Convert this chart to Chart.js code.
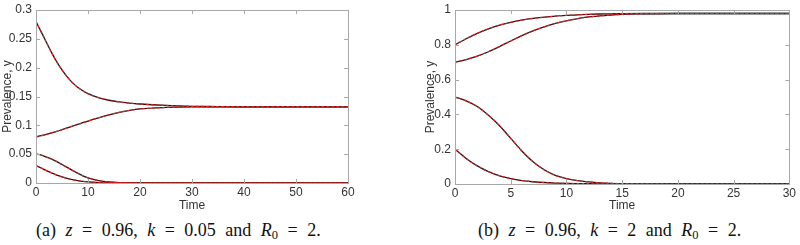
<!DOCTYPE html>
<html>
<head>
<meta charset="utf-8">
<script src="https://cdn.jsdelivr.net/npm/chart.js@4.4.1/dist/chart.umd.min.js"></script>
<style>
  html, body { margin:0; padding:0; background:#fff; width:800px; height:245px; overflow:hidden; }
  .wrap { position:absolute; }
  .cap { position:absolute; font-family:"Liberation Serif", serif; font-size:18px; color:#111; white-space:nowrap; word-spacing:5px; line-height:20px; }
  .cap i { font-style:italic; }
  .cap sub { font-size:12.5px; vertical-align:-3px; line-height:0; }
</style>
</head>
<body>
<div class="wrap" style="left:0;top:0;width:400px;height:215px;"><canvas id="c1" width="400" height="215"></canvas></div>
<div class="wrap" style="left:400px;top:0;width:400px;height:216px;"><canvas id="c2" width="400" height="216"></canvas></div>
<div class="cap" id="capA" style="left:36px;top:220px;">(a) <i>z</i> = 0.96, <i>k</i> = 0.05 and <i>R</i><sub>0</sub> = 2.</div>
<div class="cap" id="capB" style="left:478px;top:220px;">(b) <i>z</i> = 0.96, <i>k</i> = 2 and <i>R</i><sub>0</sub> = 2.</div>
<script>
// ---- Panel (a) data ----
const timesA = [0,1,2,3,4,5,6,7,8,9,10,12,14,16,18,20,25,30,35,40,50,60];
const a1 = [0.280,0.262,0.244,0.226,0.210,0.196,0.184,0.174,0.166,0.160,0.155,0.148,0.1435,0.1405,0.1385,0.137,0.1345,0.133,0.1325,0.132,0.132,0.132];
const a2 = [0.080,0.082,0.0845,0.087,0.0895,0.0925,0.0955,0.0985,0.1015,0.1045,0.1075,0.113,0.118,0.1225,0.126,0.1285,0.131,0.132,0.132,0.132,0.132,0.132];
const a3 = [0.050,0.0485,0.045,0.0415,0.037,0.032,0.027,0.022,0.017,0.0125,0.009,0.0042,0.0017,0.0006,0.0002,0,0,0,0,0,0,0];
const a4 = [0.030,0.026,0.0215,0.0175,0.0138,0.0107,0.008,0.0058,0.0041,0.0028,0.0019,0.0008,0.0003,0.0001,0,0,0,0,0,0,0,0];
const xTicksA = [0,10,20,30,40,50,60];
const yTicksA = [0,0.05,0.1,0.15,0.2,0.25,0.3];

// ---- Panel (b) data ----
const timesB = [0,1,2,3,4,5,6,7,8,9,10,11,12,13,14,15,17,20,25,30];
const b1 = [0.80,0.835,0.866,0.892,0.913,0.929,0.942,0.952,0.959,0.965,0.969,0.972,0.975,0.977,0.978,0.979,0.98,0.98,0.98,0.98];
const b2 = [0.70,0.715,0.735,0.76,0.79,0.822,0.853,0.88,0.903,0.923,0.938,0.951,0.96,0.966,0.971,0.975,0.978,0.98,0.98,0.98];
const b3 = [0.50,0.478,0.445,0.395,0.335,0.262,0.19,0.128,0.082,0.05,0.031,0.019,0.012,0.007,0.004,0.0025,0.001,0,0,0];
const b4 = [0.20,0.147,0.104,0.071,0.047,0.031,0.02,0.013,0.0085,0.0055,0.0036,0.0024,0.0016,0.001,0.0007,0.0004,0.0002,0,0,0];
const xTicksB = [0,5,10,15,20,25,30];
const yTicksB = [0,0.2,0.4,0.6,0.8,1];

const TXT = '#333333';
const BOX = '#a8a8a8';
const FAM = '"Liberation Sans Narrow", "Liberation Sans", Arial, sans-serif';
const tickFont = { family: FAM, size: 12, lineHeight: 1.0 };
const titleFont = { family: FAM, size: 12, lineHeight: 1.2 };

function pts(times, vals) { return times.map((t, i) => ({ x: t, y: vals[i] })); }

function makeDatasets(times, series) {
  const ds = [];
  // red dashed first so Chart.js paints it on top of the black solid curves
  series.forEach(v => ds.push({ data: pts(times, v), borderColor: '#ff1a1a', borderWidth: 1.2, borderDash: [2.5, 2.5], pointRadius: 0, cubicInterpolationMode: 'monotone', fill: false }));
  series.forEach(v => ds.push({ data: pts(times, v), borderColor: '#1a1a1a', borderWidth: 1.3, pointRadius: 0, cubicInterpolationMode: 'monotone', fill: false }));
  return ds;
}

const boxPlugin = {
  id: 'box',
  afterDatasetsDraw(chart) {
    const { ctx, chartArea: a, scales } = chart;
    ctx.save();
    ctx.strokeStyle = BOX;
    ctx.lineWidth = 1;
    ctx.strokeRect(Math.round(a.left) + 0.5, Math.round(a.top) + 0.5, Math.round(a.right - a.left), Math.round(a.bottom - a.top));
    const L = 4;
    ctx.beginPath();
    scales.x.ticks.forEach(t => {
      const px = Math.round(scales.x.getPixelForValue(t.value)) + 0.5;
      if (px <= a.left + 1 || px >= a.right - 1) return;
      ctx.moveTo(px, a.bottom); ctx.lineTo(px, a.bottom - L);
      ctx.moveTo(px, a.top); ctx.lineTo(px, a.top + L);
    });
    scales.y.ticks.forEach(t => {
      const py = Math.round(scales.y.getPixelForValue(t.value)) + 0.5;
      if (py <= a.top + 1 || py >= a.bottom - 1) return;
      ctx.moveTo(a.left, py); ctx.lineTo(a.left + L, py);
      ctx.moveTo(a.right, py); ctx.lineTo(a.right - L, py);
    });
    ctx.stroke();
    ctx.restore();
  }
};

function makeChart(id, times, series, xTicks, yTicks, xmax, ymax, opt) {
  return new Chart(document.getElementById(id), {
    type: 'line',
    data: { datasets: makeDatasets(times, series) },
    options: {
      responsive: false,
      animation: false,
      events: [],
      layout: { padding: opt.padding },
      plugins: { legend: { display: false }, tooltip: { enabled: false } },
      scales: {
        x: {
          type: 'linear', min: 0, max: xmax,
          afterBuildTicks(s) { s.ticks = xTicks.map(v => ({ value: v })); },
          afterFit(s) { s.height = opt.xh; },
          grid: { display: false, drawTicks: false },
          border: { display: false },
          ticks: { color: TXT, font: tickFont, padding: 4, maxRotation: 0, callback: v => String(v) },
          title: { display: true, text: 'Time', color: TXT, font: titleFont, padding: { top: 0, bottom: opt.xtb } }
        },
        y: {
          type: 'linear', min: 0, max: ymax,
          afterBuildTicks(s) { s.ticks = yTicks.map(v => ({ value: v })); },
          afterFit(s) { s.width = opt.yw; },
          grid: { display: false, drawTicks: false },
          border: { display: false },
          ticks: { color: TXT, font: tickFont, padding: 4, callback: v => String(+v.toFixed(2)) },
          title: { display: true, text: 'Prevalence, y', color: TXT, font: titleFont, padding: { top: opt.ytp, bottom: 0 } }
        }
      }
    },
    plugins: [boxPlugin]
  });
}

makeChart('c1', timesA, [a1, a2, a3, a4], xTicksA, yTicksA, 60, 0.3,
  { padding: { left: 0, right: 52, top: 5, bottom: 0 }, xh: 32, yw: 36, xtb: 2, ytp: 0 });
makeChart('c2', timesB, [b1, b2, b3, b4], xTicksB, yTicksB, 30, 1,
  { padding: { left: 0, right: 7, top: 9, bottom: 0 }, xh: 32, yw: 55, xtb: 3, ytp: 23 });
</script>
</body>
</html>
